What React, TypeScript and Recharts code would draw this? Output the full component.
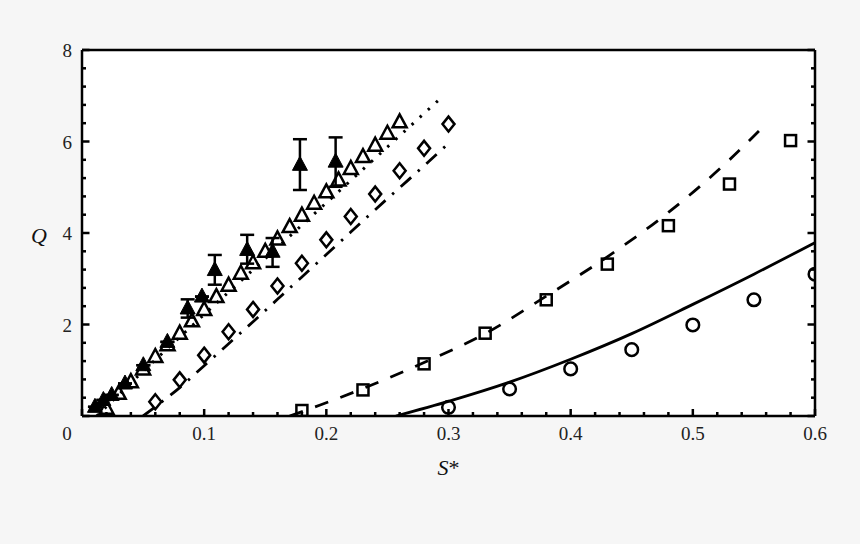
import React from "react";
import {
  ComposedChart,
  XAxis,
  YAxis,
  Line,
  ErrorBar,
  Label,
} from "recharts";

// ---- tick values ----
const xTicks = [
  0, 0.02, 0.04, 0.06, 0.08, 0.1, 0.12, 0.14, 0.16, 0.18, 0.2, 0.22, 0.24, 0.26, 0.28, 0.3,
  0.32, 0.34, 0.36, 0.38, 0.4, 0.42, 0.44, 0.46, 0.48, 0.5, 0.52, 0.54, 0.56, 0.58, 0.6,
];
const xMajor = [0, 0.1, 0.2, 0.3, 0.4, 0.5, 0.6];
const yTicks = [
  0, 0.4, 0.8, 1.2, 1.6, 2, 2.4, 2.8, 3.2, 3.6, 4, 4.4, 4.8, 5.2, 5.6, 6, 6.4, 6.8, 7.2, 7.6, 8,
];
const yMajor = [0, 2, 4, 6, 8];
const yLabels = [2, 4, 6, 8];

// ---- experimental series ----
const filledTriangles = [
  { s: 0.0106, q: 0.2, err: [0, 0] },
  { s: 0.0175, q: 0.35, err: [0, 0] },
  { s: 0.0243, q: 0.46, err: [0, 0] },
  { s: 0.0352, q: 0.71, err: [0, 0] },
  { s: 0.0502, q: 1.11, err: [0, 0] },
  { s: 0.0699, q: 1.62, err: [0, 0] },
  { s: 0.0865, q: 2.35, err: [0.2, 0.2] },
  { s: 0.0982, q: 2.61, err: [0, 0] },
  { s: 0.1087, q: 3.19, err: [0.32, 0.33] },
  { s: 0.1352, q: 3.63, err: [0.3, 0.33] },
  { s: 0.156, q: 3.59, err: [0.33, 0.3] },
  { s: 0.1784, q: 5.49, err: [0.55, 0.56] },
  { s: 0.2076, q: 5.56, err: [0.55, 0.53] },
];

const openTriangles = [
  { s: 0.02, q: 0.17 }, { s: 0.03, q: 0.5 }, { s: 0.04, q: 0.75 }, { s: 0.05, q: 1.03 },
  { s: 0.06, q: 1.3 }, { s: 0.07, q: 1.56 }, { s: 0.08, q: 1.81 }, { s: 0.09, q: 2.08 },
  { s: 0.1, q: 2.33 }, { s: 0.11, q: 2.61 }, { s: 0.12, q: 2.86 }, { s: 0.13, q: 3.12 },
  { s: 0.14, q: 3.35 }, { s: 0.15, q: 3.6 }, { s: 0.16, q: 3.87 }, { s: 0.17, q: 4.14 },
  { s: 0.18, q: 4.39 }, { s: 0.19, q: 4.65 }, { s: 0.2, q: 4.9 }, { s: 0.21, q: 5.16 },
  { s: 0.22, q: 5.41 }, { s: 0.23, q: 5.67 }, { s: 0.24, q: 5.92 }, { s: 0.25, q: 6.18 },
  { s: 0.26, q: 6.43 },
];

const diamonds = [
  { s: 0.06, q: 0.31 }, { s: 0.08, q: 0.79 }, { s: 0.1, q: 1.33 }, { s: 0.12, q: 1.84 },
  { s: 0.14, q: 2.33 }, { s: 0.16, q: 2.84 }, { s: 0.18, q: 3.34 }, { s: 0.2, q: 3.85 },
  { s: 0.22, q: 4.36 }, { s: 0.24, q: 4.85 }, { s: 0.26, q: 5.36 }, { s: 0.28, q: 5.85 },
  { s: 0.3, q: 6.38 },
];

const squares = [
  { s: 0.18, q: 0.12 }, { s: 0.23, q: 0.57 }, { s: 0.28, q: 1.14 }, { s: 0.33, q: 1.81 },
  { s: 0.38, q: 2.54 }, { s: 0.43, q: 3.32 }, { s: 0.48, q: 4.16 }, { s: 0.53, q: 5.07 },
  { s: 0.58, q: 6.02 },
];

const circles = [
  { s: 0.3, q: 0.19 }, { s: 0.35, q: 0.59 }, { s: 0.4, q: 1.03 }, { s: 0.45, q: 1.45 },
  { s: 0.5, q: 1.99 }, { s: 0.55, q: 2.54 }, { s: 0.6, q: 3.1 },
];

// ---- model curves ----
const dottedCurve = [
  { s: 0.012, q: 0 }, { s: 0.05, q: 0.98 }, { s: 0.1, q: 2.22 }, { s: 0.15, q: 3.44 },
  { s: 0.2, q: 4.66 }, { s: 0.25, q: 5.88 }, { s: 0.295, q: 6.98 },
];

const dashDotCurve = [
  { s: 0.05, q: 0 }, { s: 0.06, q: 0.2 }, { s: 0.08, q: 0.62 }, { s: 0.1, q: 1.1 },
  { s: 0.12, q: 1.58 }, { s: 0.14, q: 2.06 }, { s: 0.16, q: 2.55 }, { s: 0.18, q: 3.04 },
  { s: 0.2, q: 3.53 }, { s: 0.22, q: 4.02 }, { s: 0.24, q: 4.51 }, { s: 0.26, q: 4.99 },
  { s: 0.28, q: 5.47 }, { s: 0.3, q: 5.96 },
];

const dashedCurve = [
  { s: 0.17, q: 0 }, { s: 0.195, q: 0.24 }, { s: 0.23, q: 0.6 }, { s: 0.28, q: 1.17 },
  { s: 0.33, q: 1.8 }, { s: 0.38, q: 2.62 }, { s: 0.43, q: 3.48 }, { s: 0.48, q: 4.45 },
  { s: 0.53, q: 5.6 }, { s: 0.556, q: 6.28 },
];

const solidCurve = [
  { s: 0.257, q: 0 }, { s: 0.3, q: 0.32 }, { s: 0.35, q: 0.74 }, { s: 0.4, q: 1.24 },
  { s: 0.45, q: 1.8 }, { s: 0.5, q: 2.44 }, { s: 0.55, q: 3.1 }, { s: 0.6, q: 3.79 },
];

const FONT = "'Liberation Serif', 'DejaVu Serif', serif";
const TICK_COLOR = "#222";
const AXIS_W = 2.5;
const MARK_W = 2.5;

const isIn = (arr: number[], v: number) => arr.some((a) => Math.abs(a - v) < 1e-6);

const BottomTick = (props: any) => {
  const { x, y, payload } = props;
  const v = payload.value;
  const major = isIn(xMajor, v);
  return (
    <g>
      <line x1={x} x2={x} y1={y} y2={y - (major ? 7 : 4)} stroke="#000" strokeWidth={AXIS_W} />
      {major && (
        <text
          x={v === 0 ? x - 15 : x}
          y={y + 24}
          textAnchor="middle"
          fontFamily={FONT}
          fontSize={19}
          fill={TICK_COLOR}
        >
          {v === 0 ? "0" : v.toFixed(1)}
        </text>
      )}
    </g>
  );
};

const TopTick = (props: any) => {
  const { x, y, payload } = props;
  const major = isIn(xMajor, payload.value);
  return <line x1={x} x2={x} y1={y} y2={y + (major ? 7 : 4)} stroke="#000" strokeWidth={AXIS_W} />;
};

const LeftTick = (props: any) => {
  const { x, y, payload } = props;
  const v = payload.value;
  const major = isIn(yMajor, v);
  return (
    <g>
      <line x1={x} x2={x + (major ? 7.5 : 4)} y1={y} y2={y} stroke="#000" strokeWidth={AXIS_W} />
      {isIn(yLabels, v) && (
        <text x={x - 10} y={y + 7} textAnchor="end" fontFamily={FONT} fontSize={19} fill={TICK_COLOR}>
          {String(v)}
        </text>
      )}
    </g>
  );
};

const RightTick = (props: any) => {
  const { x, y, payload } = props;
  const major = isIn(yMajor, payload.value);
  return <line x1={x} x2={x - (major ? 7.5 : 4)} y1={y} y2={y} stroke="#000" strokeWidth={AXIS_W} />;
};

const FilledTri = (p: any) =>
  p.cx == null ? null : (
    <polygon
      points={`${p.cx},${p.cy - 8.5} ${p.cx - 7.5},${p.cy + 5.5} ${p.cx + 7.5},${p.cy + 5.5}`}
      fill="#000"
      stroke="#000"
      strokeWidth={1}
    />
  );
const OpenTri = (p: any) =>
  p.cx == null ? null : (
    <polygon
      points={`${p.cx},${p.cy - 7.5} ${p.cx - 7},${p.cy + 5.5} ${p.cx + 7},${p.cy + 5.5}`}
      fill="none"
      stroke="#000"
      strokeWidth={MARK_W}
      strokeLinejoin="miter"
    />
  );
const Diamond = (p: any) =>
  p.cx == null ? null : (
    <polygon
      points={`${p.cx},${p.cy - 7.5} ${p.cx + 6},${p.cy} ${p.cx},${p.cy + 7.5} ${p.cx - 6},${p.cy}`}
      fill="none"
      stroke="#000"
      strokeWidth={MARK_W}
    />
  );
const Square = (p: any) =>
  p.cx == null ? null : (
    <rect x={p.cx - 5.5} y={p.cy - 5.5} width={11} height={11} fill="none" stroke="#000" strokeWidth={MARK_W} />
  );
const Circle = (p: any) =>
  p.cx == null ? null : <circle cx={p.cx} cy={p.cy} r={6.3} fill="none" stroke="#000" strokeWidth={MARK_W} />;

const XLabel = (props: any) => {
  const vb = props.viewBox;
  return (
    <text x={vb.x + vb.width / 2} y={vb.y + 59} textAnchor="middle" fontFamily={FONT} fontSize={22} fill="#111">
      <tspan fontStyle="italic">S</tspan>
      <tspan>*</tspan>
    </text>
  );
};

const YLabel = (props: any) => {
  const vb = props.viewBox;
  return (
    <text x={39} y={vb.y + 193} textAnchor="middle" fontFamily={FONT} fontSize={22} fontStyle="italic" fill="#111">
      Q
    </text>
  );
};

const axisLineStyle = { stroke: "#000", strokeWidth: AXIS_W };

const markerSeries = (data: any[], Shape: any) => (
  <Line
    data={data}
    dataKey="q"
    stroke="none"
    dot={(p: any) => <Shape key={`${p.index}`} {...p} />}
    activeDot={false}
    isAnimationActive={false}
  />
);

export default function App() {
  return (
    <div style={{ position: "absolute", left: 0, top: 0, width: 860, height: 544, background: "#f6f6f6" }}>
      <div style={{ position: "absolute", left: 82, top: 50, width: 733, height: 366, background: "#ffffff" }} />
      <div style={{ position: "absolute", left: 0, top: 0 }}>
        <ComposedChart width={860} height={544} margin={{ top: 49, right: 44, left: 0, bottom: 0 }}>
          <XAxis
            dataKey="s"
            type="number"
            domain={[0, 0.6]}
            ticks={xTicks}
            interval={0}
            height={128}
            tickSize={0}
            tickMargin={0}
            tickLine={false}
            tick={<BottomTick />}
            stroke="#000"
            axisLine={axisLineStyle}
            allowDataOverflow
          >
            <Label content={<XLabel />} />
          </XAxis>
          <XAxis
            xAxisId="top"
            orientation="top"
            type="number"
            domain={[0, 0.6]}
            ticks={xTicks}
            interval={0}
            height={1}
            tickSize={0}
            tickMargin={0}
            tickLine={false}
            tick={<TopTick />}
            stroke="#000"
            axisLine={axisLineStyle}
            allowDataOverflow
          />
          <YAxis
            type="number"
            domain={[0, 8]}
            ticks={yTicks}
            interval={0}
            width={82}
            tickSize={0}
            tickMargin={0}
            tickLine={false}
            tick={<LeftTick />}
            stroke="#000"
            axisLine={axisLineStyle}
            allowDataOverflow
          >
            <Label content={<YLabel />} />
          </YAxis>
          <YAxis
            yAxisId="right"
            orientation="right"
            type="number"
            domain={[0, 8]}
            ticks={yTicks}
            interval={0}
            width={1}
            tickSize={0}
            tickMargin={0}
            tickLine={false}
            tick={<RightTick />}
            stroke="#000"
            axisLine={axisLineStyle}
            allowDataOverflow
          />

          <Line data={dottedCurve} dataKey="q" type="linear" stroke="#000" strokeWidth={3} strokeDasharray="2.5 8.5" dot={false} activeDot={false} isAnimationActive={false} />
          <Line data={dashDotCurve} dataKey="q" type="monotone" stroke="#000" strokeWidth={2.8} strokeDasharray="14 9 2.5 9" dot={false} activeDot={false} isAnimationActive={false} />
          <Line data={dashedCurve} dataKey="q" type="monotone" stroke="#000" strokeWidth={2.8} strokeDasharray="14 13" dot={false} activeDot={false} isAnimationActive={false} />
          <Line data={solidCurve} dataKey="q" type="monotone" stroke="#000" strokeWidth={2.8} dot={false} activeDot={false} isAnimationActive={false} />

          {markerSeries(openTriangles, OpenTri)}
          {markerSeries(diamonds, Diamond)}
          {markerSeries(squares, Square)}
          {markerSeries(circles, Circle)}
          <Line
            data={filledTriangles}
            dataKey="q"
            stroke="none"
            dot={(p: any) => <FilledTri key={`${p.index}`} {...p} />}
            activeDot={false}
            isAnimationActive={false}
          >
            <ErrorBar dataKey="err" direction="y" width={7} stroke="#000" strokeWidth={2.5} />
          </Line>
        </ComposedChart>
      </div>
    </div>
  );
}
